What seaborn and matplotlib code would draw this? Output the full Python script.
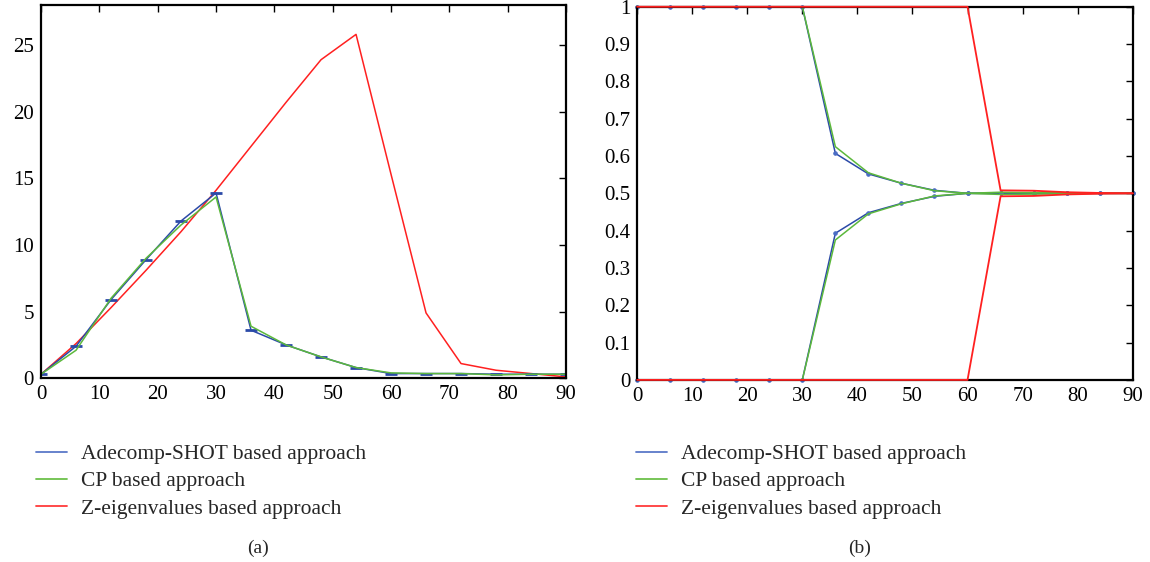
"""
Two-panel comparison: (a) error curve, (b) weight branches vs angle.
"""
import numpy as np
import matplotlib
matplotlib.use('Agg')
import matplotlib.pyplot as plt
from matplotlib.lines import Line2D
import seaborn as sns

sns.set_style('white')
plt.rcParams['font.family'] = ['Liberation Serif', 'DejaVu Serif']

angles = [0, 6, 12, 18, 24, 30, 36, 42, 48, 54, 60, 66, 72, 78, 84, 90]

# panel (a)
adecomp_a = [0.3, 2.4, 5.9, 8.9, 11.8, 13.9, 3.6, 2.5, 1.6, 0.8, 0.35, 0.35, 0.35, 0.3, 0.3, 0.3]
cp_a = [0.3, 2.1, 6.0, 9.0, 11.5, 13.6, 3.9, 2.5, 1.6, 0.8, 0.4, 0.35, 0.35, 0.25, 0.3, 0.3]
zeig_a = [0.3, 2.6, 5.3, 8.1, 11.0, 14.1, 17.4, 20.7, 23.9, 25.8, 15.3, 4.9, 1.1, 0.6, 0.35, 0.1]

# panel (b): upper and lower branches
adecomp_hi = [1, 1, 1, 1, 1, 1, 0.607, 0.552, 0.527, 0.508, 0.5, 0.5, 0.5, 0.5, 0.5, 0.5]
adecomp_lo = [0, 0, 0, 0, 0, 0, 0.393, 0.448, 0.473, 0.492, 0.5, 0.5, 0.5, 0.5, 0.5, 0.5]
cp_hi = [1, 1, 1, 1, 1, 1, 0.625, 0.555, 0.527, 0.507, 0.5, 0.503, 0.502, 0.501, 0.5, 0.5]
cp_lo = [0, 0, 0, 0, 0, 0, 0.375, 0.445, 0.472, 0.493, 0.5, 0.497, 0.498, 0.499, 0.5, 0.5]
zeig_hi = [1, 1, 1, 1, 1, 1, 1, 1, 1, 1, 1, 0.508, 0.507, 0.503, 0.501, 0.5]
zeig_lo = [0, 0, 0, 0, 0, 0, 0, 0, 0, 0, 0, 0.492, 0.493, 0.497, 0.499, 0.5]

labels = ['Adecomp-SHOT based approach', 'CP based approach', 'Z-eigenvalues based approach']
BLUE, GREEN, RED = '#2b4aa8', '#5cb83c', '#ff2020'
LEG_COLORS = ['#5a78c8', '#6cc04a', '#ff3a3a']

fig = plt.figure(figsize=(11.5, 5.62), dpi=100)
ax1 = fig.add_axes([0.0357, 0.327, 0.4565, 0.664])
ax2 = fig.add_axes([0.554, 0.324, 0.431, 0.664])

# (a)
sns.lineplot(x=angles, y=zeig_a, ax=ax1, color=RED, lw=1.1)
sns.lineplot(x=angles, y=adecomp_a, ax=ax1, color=BLUE, lw=1.1,
             marker='_', markersize=9, markeredgewidth=2, markeredgecolor=BLUE)
sns.lineplot(x=angles, y=cp_a, ax=ax1, color=GREEN, lw=1.1)
ax1.set_xlim(0, 90)
ax1.set_ylim(0, 28)
ax1.set_xticks(range(0, 91, 10))
ax1.set_yticks(range(0, 26, 5))

# (b)
for hi, lo, col, mk in [(adecomp_hi, adecomp_lo, BLUE, '.'),
                         (cp_hi, cp_lo, GREEN, None),
                         (zeig_hi, zeig_lo, RED, None)]:
    for ys in (hi, lo):
        kw = dict(marker=mk, markersize=5, markeredgecolor='#4a6cc4',
                  markerfacecolor='#4a6cc4') if mk else {}
        sns.lineplot(x=angles, y=ys, ax=ax2, color=col, lw=1.3 if col == RED else 1.1,
                     clip_on=False, zorder=3 if col == RED else 2, **kw)
ax2.set_xlim(0, 90)
ax2.set_ylim(0, 1)
ax2.set_xticks(range(0, 91, 10))
ax2.set_yticks(np.round(np.arange(0, 1.01, 0.1), 1))
ax2.set_yticklabels(['0', '0.1', '0.2', '0.3', '0.4', '0.5', '0.6', '0.7', '0.8', '0.9', '1'])

for ax in (ax1, ax2):
    for s in ax.spines.values():
        s.set_color('black')
        s.set_linewidth(1.6)
    ax.tick_params(direction='in', top=True, right=True, length=5, width=1,
                   labelsize=15, pad=5, color='black', labelcolor='black')
    if ax.get_legend():
        ax.get_legend().remove()

handles = [Line2D([], [], color=c, lw=1.3) for c in LEG_COLORS]
for x0 in (36 / 1150, 636 / 1150):
    fig.legend(handles, labels, loc='upper left', bbox_to_anchor=(x0, 1 - 444 / 562),
               frameon=False, fontsize=15.5, handlelength=1.45, handletextpad=0.65,
               labelspacing=0.34, borderpad=0, borderaxespad=0)

fig.text(258 / 1150, 1 - 548 / 562, '(a)', ha='center', va='center', fontsize=14)
fig.text(860 / 1150, 1 - 548 / 562, '(b)', ha='center', va='center', fontsize=14)

fig.savefig('out.png', dpi=100)
